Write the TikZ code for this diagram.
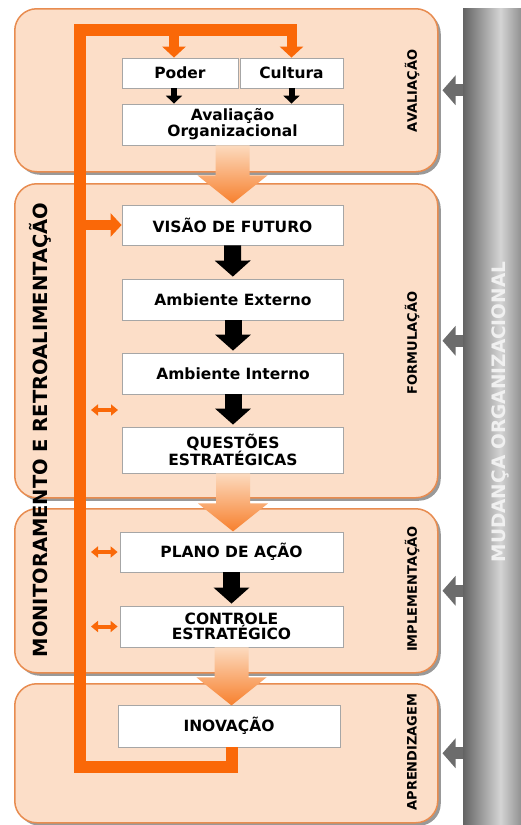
\documentclass[tikz,border=0pt]{standalone}
\usepackage{fontspec}
\setmainfont{DejaVu Sans}
\usepackage{tikz}
\usetikzlibrary{arrows.meta,shadows}
\definecolor{panelfill}{RGB}{252,222,200}
\definecolor{paneldraw}{RGB}{232,140,80}
\definecolor{fborange}{RGB}{250,104,8}
\definecolor{bargray}{RGB}{108,108,108}
\definecolor{arrowtop}{RGB}{252,218,190}
\definecolor{arrowbot}{RGB}{247,128,45}
\definecolor{barleft}{RGB}{100,100,100}
\definecolor{barmid}{RGB}{212,212,212}
\definecolor{barright}{RGB}{145,145,145}
\pgfdeclarehorizontalshading{barshade}{100bp}{color(0bp)=(barleft); color(25bp)=(barleft);
        color(57bp)=(barmid); color(75bp)=(barright); color(100bp)=(barright)}
\tikzstyle{panel}=[
        draw=paneldraw,
        line width=1.5pt,
        fill=panelfill,
        rounded corners=22pt,
        anchor=north west,
        drop shadow={shadow xshift=3pt, shadow yshift=-3pt, fill=black, opacity=0.4}
]
\tikzstyle{box}=[
        draw=gray!70,
        line width=0.8pt,
        fill=white,
        inner sep=0pt,
        minimum width=221pt,
        minimum height=41pt,
        align=center,
        font=\fontsize{15.5}{14.5}\selectfont\bfseries
]
\tikzstyle{phase}=[rotate=90, font=\fontsize{13}{13}\selectfont\bfseries]
\tikzstyle{feedback}=[draw=fborange, line width=12pt, line join=miter]
\tikzstyle{fbarrow}=[fborange, line width=10pt, -{Triangle[width=23pt,length=11pt]}]
\tikzstyle{fbsmall}=[fborange, line width=4pt, {Triangle[width=11pt,length=7pt]}-{Triangle[width=11pt,length=7pt]}]
\tikzstyle{blackarrow}=[black, line width=17pt, -{Triangle[width=35pt,length=16pt]}]
\tikzstyle{smallblack}=[black, line width=6pt, -{Triangle[width=16pt,length=8pt]}]
\tikzstyle{grayarrow}=[bargray, line width=12pt, -{Triangle[width=29pt,length=13pt]}]

\begin{document}
\begin{tikzpicture}[x=1pt,y=-1pt]
                        \useasboundingbox (0,0) rectangle (521,825);

                        % phases
                        \node[panel, minimum width=423pt, minimum height=163pt] (avalp) at (14,8) {};
                        \node[panel, minimum width=423pt, minimum height=314pt] (formp) at (14,183) {};
                        \node[panel, minimum width=423pt, minimum height=164pt] (implp) at (14,508) {};
                        \node[panel, minimum width=423pt, minimum height=139pt] (aprep) at (14,683) {};

                        \node[phase] (avall) at (412,91) {AVALIAÇÃO};
                        \node[phase] (forml) at (412,343) {FORMULAÇÃO};
                        \node[phase] (impll) at (412,589) {IMPLEMENTAÇÃO};
                        \node[phase] (aprel) at (412,752) {APRENDIZAGEM};

                        % mudanca organizacional
                        \node[anchor=north west, minimum width=58pt, minimum height=817pt, inner sep=0pt,
                              shading=barshade] (bar) at (463,8) {};
                        \node[rotate=90, text=gray!12, font=\fontsize{18.5}{19}\selectfont\bfseries] (mudtxt) at (500,412) {MUDANÇA ORGANIZACIONAL};

                        \foreach \p in {avalp,formp,implp,aprep} {
                            \draw[grayarrow] (bar.west |- \p.east) -- ([xshift=4pt]\p.east);
                        }

                        \node[rotate=90, font=\fontsize{19.5}{20}\selectfont\bfseries] (monit) at (40,430) {MONITORAMENTO E RETROALIMENTAÇÃO};

                        % boxes
                        \node[box, minimum width=116pt, minimum height=30pt] (poder) at (180,73) {Poder};
                        \node[box, minimum width=103pt, minimum height=30pt] (cultura) at (291.5,73) {Cultura};
                        \node[box] (avalorg) at (232.5,124.5) {Avaliação\\Organizacional};
                        \node[box, minimum height=40pt] (visao) at (232.5,225) {VISÃO DE FUTURO};
                        \node[box] (ambext) at (233,299.5) {Ambiente Externo};
                        \node[box] (ambint) at (233,373.5) {Ambiente Interno};
                        \node[box, minimum height=46pt] (questoes) at (233,450) {QUESTÕES\\ESTRATÉGICAS};
                        \node[box, minimum width=223pt, minimum height=40pt] (plano) at (231.5,552) {PLANO DE AÇÃO};
                        \node[box, minimum width=223pt] (controle) at (231.5,626.5) {CONTROLE\\ESTRATÉGICO};
                        \node[box, minimum width=222pt, minimum height=42pt] (inov) at (229,726) {INOVAÇÃO};

                        \foreach \n in {avalorg,questoes,controle} {
                            \shade[shift={(\n.south)}, top color=arrowtop, bottom color=arrowbot]
                                (-17,0) -- (17,0) -- (17,30) -- (35,30) -- (0,58) -- (-35,30) -- (-17,30) -- cycle;
                        }

                        \draw[smallblack] ([xshift=-6pt]poder.south) -- ([xshift=-6pt]poder.south |- avalorg.north);
                        \draw[smallblack] (cultura.south) -- (cultura.south |- avalorg.north);
                        \draw[blackarrow, shorten >=2pt] (visao) -- (ambext);
                        \draw[blackarrow, shorten >=2pt] (ambext) -- (ambint);
                        \draw[blackarrow, shorten >=2pt] (ambint) -- (questoes);
                        \draw[blackarrow, shorten >=2pt] (plano) -- (controle);

                        % retroalimentacao
                        \coordinate (fbbot) at (80,767);
                        \coordinate (fbtop) at (80,30);
                        \coordinate (fbend) at (297,30);
                        \draw[feedback] ([xshift=3pt]inov.south) |- (fbbot) -- (fbtop) -- (fbend);
                        \draw[fbarrow] ([xshift=-6pt]poder.north |- fbtop) -- ([xshift=-6pt]poder.north);
                        \draw[fbarrow] (cultura.north |- fbtop) -- (cultura.north);
                        \draw[fbarrow] (fbtop |- visao.west) -- (visao.west);

                        \coordinate (dbl) at (91,410);
                        \coordinate (dbr) at (118,410);
                        \draw[fbsmall] (dbl) -- (dbr);
                        \draw[fbsmall] (dbl |- plano.west) -- ([xshift=-2pt]plano.west);
                        \draw[fbsmall] (dbl |- controle.west) -- ([xshift=-2pt]controle.west);
                        
\end{tikzpicture}
\end{document}
